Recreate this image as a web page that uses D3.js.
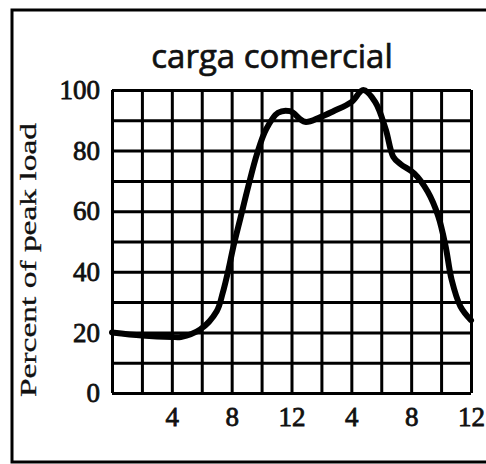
<!DOCTYPE html>
<meta charset="utf-8">
<style>
    body { margin: 0; background: #fff; }
    .grid line { stroke: #000; stroke-width: 3px; }
    .grid path { display: none; }
    .lbl text { font-family: "Liberation Serif", serif; font-size: 27px; fill: #111; stroke: #111; stroke-width: 0.8px; }
    .lbl path, .lbl line { display: none; }
</style>
<svg width="486" height="464"></svg>
<script src="https://cdnjs.cloudflare.com/ajax/libs/d3/7.8.5/d3.min.js"></script>
<script>

    // hours of the day (0 = midnight) and load in percent of peak
    var hours = [0, 2, 4, 4.6, 5.9, 7, 7.4, 7.8, 8.1, 8.6, 9.1, 9.7, 10.3, 11.1, 11.9, 12.9, 13.9, 14.8, 16, 16.8, 17.6, 18.3, 18.8, 19.3, 20.2, 21.1, 21.8, 22.3, 22.7, 23.3, 24];
    var load  = [20, 19, 18.5, 18.5, 21, 27, 33, 41, 48, 58, 68, 79, 87, 92.5, 93, 89.5, 91, 93, 96, 100, 96, 87, 78, 75.5, 72.5, 66.5, 58.5, 48.5, 37.5, 28.5, 24];

    var xTicks = [4, 8, 12, 16, 20, 24];
    var xTickLabels = ["4", "8", "12", "4", "8", "12"];
    var yTicks = [0, 20, 40, 60, 80, 100];

    var svg = d3.select("svg");

    var x = d3.scaleLinear().domain([0, 24]).range([112, 471]),
        y = d3.scaleLinear().domain([0, 100]).range([393, 90]);

    // outer frame (left, top, bottom)
    svg.append("path")
        .attr("d", "M486,10H12V462H486")
        .attr("fill", "none")
        .attr("stroke", "#000")
        .attr("stroke-width", 3);

    // title
    svg.append("text")
        .attr("x", 272).attr("y", 68)
        .attr("text-anchor", "middle")
        .style("font-family", "'Open Sans', sans-serif")
        .style("font-size", "33px")
        .style("fill", "#111")
        .style("stroke", "#111")
        .style("stroke-width", "0.7px")
        .text("carga comercial");

    // y label, stretched like the scan
    svg.append("text")
        .attr("transform", "translate(36,260) rotate(-90)")
        .attr("text-anchor", "middle")
        .attr("textLength", 274)
        .attr("lengthAdjust", "spacingAndGlyphs")
        .style("font-family", "'Liberation Serif', serif")
        .style("font-size", "24px")
        .style("fill", "#111")
        .style("stroke", "#111")
        .style("stroke-width", "0.3px")
        .text("Percent of peak load");

    // grid lines via axes
    svg.append("g").attr("class", "grid")
        .attr("transform", "translate(0,393)")
        .call(d3.axisBottom(x).tickValues(d3.range(0, 25, 2)).tickSize(-303).tickFormat(""));

    svg.append("g").attr("class", "grid")
        .attr("transform", "translate(112,0)")
        .call(d3.axisLeft(y).tickValues(d3.range(0, 101, 10)).tickSize(-359).tickFormat(""));

    // tick labels
    svg.append("g").attr("class", "lbl")
        .attr("transform", "translate(0,393)")
        .call(d3.axisBottom(x).tickValues(xTicks).tickSize(0).tickPadding(14)
            .tickFormat(function (d, i) { return xTickLabels[i]; }));

    svg.append("g").attr("class", "lbl")
        .attr("transform", "translate(112,0)")
        .call(d3.axisLeft(y).tickValues(yTicks).tickSize(0).tickPadding(12));

    // load curve
    var line = d3.line()
        .x(function (d) { return x(d[0]); })
        .y(function (d) { return y(d[1]); })
        .curve(d3.curveCatmullRom.alpha(0.5));

    svg.append("path")
        .datum(d3.zip(hours, load))
        .attr("d", line)
        .attr("fill", "none")
        .attr("stroke", "#000")
        .attr("stroke-width", 6)
        .attr("stroke-linejoin", "round")
        .attr("stroke-linecap", "round");

</script>
